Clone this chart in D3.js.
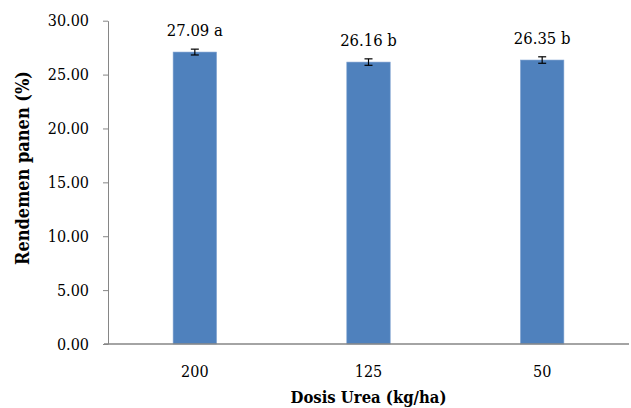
<!DOCTYPE html>
<html><head><meta charset="utf-8">
<script src="https://cdn.jsdelivr.net/npm/d3@7"></script>
<style>body{margin:0;background:#fff}svg{display:block}svg text{font-stretch:condensed}</style>
</head><body><svg id="c" width="631" height="408"></svg>
<script>
const categories = ["200", "125", "50"];
const values = [27.09, 26.16, 26.35];
const errors = [0.27, 0.3, 0.3];
const letters = ["a", "b", "b"];
const yTicks = [0, 5, 10, 15, 20, 25, 30];

const svg = d3.select("#c");
const m = {l: 108, r: 2, t: 20.7, b: 64};
const W = 631, H = 408;
const x = d3.scaleBand().domain(categories).range([m.l, W - m.r]).paddingInner(0.75).paddingOuter(0.375);
const y = d3.scaleLinear().domain([0, 30]).range([344, 20.7]);
const font = "DejaVu Serif Condensed, DejaVu Serif";

const yAx = svg.append("g").attr("transform", `translate(${m.l},0)`)
  .call(d3.axisLeft(y).tickValues(yTicks).tickFormat(d3.format(".2f")).tickSize(5).tickSizeOuter(0));
yAx.select(".domain").attr("stroke", "#868686");
yAx.selectAll(".tick line").attr("stroke", "#868686");
yAx.selectAll(".tick text").attr("font-family", font).attr("font-size", 16).attr("fill", "#000").attr("dx", -11);

svg.append("g").selectAll("rect").data(values).join("rect")
  .attr("x", (d, i) => x(categories[i])).attr("width", x.bandwidth())
  .attr("y", d => y(d)).attr("height", d => y(0) - y(d))
  .attr("fill", "#4F81BD").attr("stroke", "#7EA1D0").attr("stroke-width", 0.6);

const xAx = svg.append("g").attr("transform", `translate(0,${y(0)})`)
  .call(d3.axisBottom(x).tickSize(0).tickSizeOuter(0));
xAx.select(".domain").attr("stroke", "#868686").attr("stroke-width", 1.5).attr("d", `M${m.l - 4},0H${W - m.r}`);
xAx.selectAll(".tick text").attr("font-family", font).attr("font-size", 16).attr("fill", "#000").attr("dy", "1.85em");

const eb = svg.append("g").attr("stroke", "#000").attr("stroke-width", 1.2);
values.forEach((v, i) => {
  const cx = x(categories[i]) + x.bandwidth() / 2;
  eb.append("line").attr("x1", cx).attr("x2", cx).attr("y1", y(v + errors[i])).attr("y2", y(v - errors[i]));
  eb.append("line").attr("x1", cx - 4).attr("x2", cx + 4).attr("y1", y(v + errors[i])).attr("y2", y(v + errors[i]));
  eb.append("line").attr("x1", cx - 4).attr("x2", cx + 4).attr("y1", y(v - errors[i])).attr("y2", y(v - errors[i]));
  svg.append("text").attr("x", cx).attr("y", y(v + errors[i]) - 13)
    .attr("text-anchor", "middle").attr("font-family", font).attr("font-size", 16.5)
    .text(d3.format(".2f")(v) + " " + letters[i]);
});

svg.append("text").attr("x", (m.l + W - m.r) / 2).attr("y", 403).attr("text-anchor", "middle")
  .attr("font-family", font).attr("font-size", 16.5).attr("font-weight", "bold").text("Dosis Urea (kg/ha)");
svg.append("text").attr("transform", "translate(29,168) rotate(-90)").attr("text-anchor", "middle")
  .attr("font-family", font).attr("font-size", 18).attr("font-weight", "bold").text("Rendemen panen (%)");
</script></body></html>
